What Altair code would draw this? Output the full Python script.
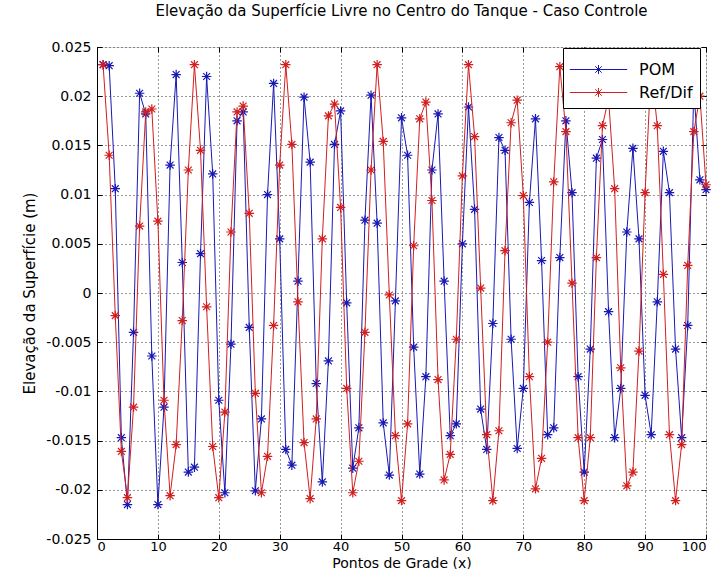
import altair as alt
import pandas as pd

# x positions (grid points) and readings of the two series
x_vals = list(range(1, 101))

pom = [
    0.0232, 0.0231, 0.0106, -0.0147, -0.0215, -0.0040, 0.0203, 0.0182, -0.0064, -0.0215,
    -0.0116, 0.0130, 0.0222, 0.0031, -0.0182, -0.0177, 0.0040, 0.0220, 0.0121, -0.0109,
    -0.0203, -0.0052, 0.0175, 0.0184, -0.0035, -0.0201, -0.0128, 0.0100, 0.0213, 0.0055,
    -0.0159, -0.0175, 0.0012, 0.0199, 0.0133, -0.0092, -0.0192, -0.0069, 0.0151, 0.0185,
    -0.0010, -0.0178, -0.0137, 0.0074, 0.0201, 0.0071, -0.0132, -0.0185, -0.0008, 0.0178,
    0.0140, -0.0055, -0.0184, -0.0085, 0.0125, 0.0182, 0.0012, -0.0145, -0.0133, 0.0050,
    0.0189, 0.0085, -0.0118, -0.0159, -0.0031, 0.0158, 0.0145, -0.0047, -0.0158, -0.0097,
    0.0092, 0.0177, 0.0033, -0.0144, -0.0137, 0.0036, 0.0175, 0.0102, -0.0085, -0.0182,
    -0.0057, 0.0137, 0.0156, -0.0019, -0.0147, -0.0097, 0.0062, 0.0147, 0.0055, -0.0104,
    -0.0144, -0.0009, 0.0144, 0.0102, -0.0057, -0.0147, -0.0033, 0.0207, 0.0115, 0.0105,
]

refdif = [
    0.0232, 0.0140, -0.0023, -0.0161, -0.0208, -0.0116, 0.0068, 0.0184, 0.0187, 0.0073,
    -0.0109, -0.0206, -0.0154, -0.0028, 0.0125, 0.0232, 0.0145, -0.0014, -0.0156, -0.0208,
    -0.0121, 0.0062, 0.0184, 0.0190, 0.0081, -0.0102, -0.0203, -0.0166, -0.0033, 0.0130,
    0.0232, 0.0151, -0.0009, -0.0152, -0.0209, -0.0128, 0.0055, 0.0180, 0.0192, 0.0087,
    -0.0097, -0.0203, -0.0171, -0.0040, 0.0125, 0.0232, 0.0154, -0.0002, -0.0145, -0.0211,
    -0.0133, 0.0048, 0.0177, 0.0194, 0.0094, -0.0088, -0.0190, -0.0164, -0.0047, 0.0119,
    0.0232, 0.0159, 0.0005, -0.0144, -0.0211, -0.0140, 0.0043, 0.0173, 0.0196, 0.0099,
    -0.0085, -0.0199, -0.0168, -0.0050, 0.0113, 0.0230, 0.0164, 0.0010, -0.0147, -0.0211,
    -0.0147, 0.0036, 0.0170, 0.0198, 0.0106, -0.0076, -0.0196, -0.0182, -0.0059, 0.0102,
    0.0230, 0.0170, 0.0019, -0.0144, -0.0211, -0.0154, 0.0028, 0.0164, 0.0200, 0.0110,
]

series_names = ["POM", "Ref/Dif"]
series_colors = ["#1818b4", "#d21e1e"]

x_ticks = list(range(0, 101, 10))
y_ticks = [-0.025, -0.02, -0.015, -0.01, -0.005, 0.0, 0.005, 0.01, 0.015, 0.02, 0.025]

df = pd.DataFrame({
    "x": x_vals + x_vals,
    "y": pom + refdif,
    "serie": [series_names[0]] * len(pom) + [series_names[1]] * len(refdif),
})

FONT = "DejaVu Sans"
ASTER = "M-1,0L1,0M0,-1L0,1M-0.72,-0.72L0.72,0.72M-0.72,0.72L0.72,-0.72"
LEG_SYM = ("M-2.05,0L2.05,0M-0.32,0L0.32,0M0,-0.32L0,0.32"
           "M-0.23,-0.23L0.23,0.23M-0.23,0.23L0.23,-0.23")

legend = alt.Legend(
    title=None,
    orient="none",
    legendX=466,
    legendY=1,
    symbolType=LEG_SYM,
    symbolSize=784,
    symbolStrokeWidth=1,
    symbolOffset=14,
    labelOffset=26,
    padding=7,
    rowPadding=0,
    fillColor="white",
    strokeColor="black",
    labelFont=FONT,
    labelFontSize=16,
    labelColor="black",
    cornerRadius=0,
)

color = alt.Color(
    "serie:N",
    scale=alt.Scale(domain=series_names, range=series_colors),
    legend=legend,
)

xscale = alt.Scale(domain=[0, 100], nice=False, zero=False)
yscale = alt.Scale(domain=[-0.025, 0.025], nice=False, zero=False)

main_x_axis = alt.Axis(
    values=x_ticks, title="Pontos de Grade (x)", format="d", orient="bottom",
    labelFont=FONT, labelFontSize=13, labelColor="black",
    titleFont=FONT, titleFontSize=14, titleFontWeight="normal", titleColor="black",
    labelPadding=1, titleY=28, titleBaseline="alphabetic",
    domainColor="black", tickSize=0,
    grid=True, gridColor="black", gridDash=[1, 3], gridOpacity=0.8,
)
main_y_axis = alt.Axis(
    values=y_ticks, title="Elevação da Superfície (m)", orient="left",
    labelFont=FONT, labelFontSize=14, labelColor="black",
    titleFont=FONT, titleFontSize=15, titleFontWeight="normal", titleColor="black",
    labelPadding=6, titlePadding=8,
    labelExpr="replace(format(datum.value, '.3~f'), '\u2212', '-')",
    domainColor="black", tickSize=0,
    grid=True, gridColor="black", gridDash=[1, 3], gridOpacity=0.8,
)


def tick_axis(values, orient):
    return alt.Axis(
        values=values, orient=orient, title=None, labels=False, domain=False,
        grid=False, ticks=True, tickSize=5, tickColor="black", tickWidth=1, offset=-5,
    )


axes_by_layer = [
    (main_x_axis, main_y_axis),
    (tick_axis(x_ticks, "top"), tick_axis(y_ticks, "right")),
    (tick_axis(x_ticks, "bottom"), tick_axis(y_ticks, "left")),
    (None, None),
]

layers = []
k = 0
for name in series_names:
    base = alt.Chart(df).transform_filter(alt.datum.serie == name)
    for kind in ("line", "point"):
        ax_x, ax_y = axes_by_layer[k]
        k += 1
        xenc = alt.X("x:Q", scale=xscale, axis=ax_x)
        yenc = alt.Y("y:Q", scale=yscale, axis=ax_y)
        if kind == "line":
            m = base.mark_line(strokeWidth=1)
        else:
            m = base.mark_point(shape=ASTER, size=90, filled=False, strokeWidth=1.2, opacity=1)
        layers.append(m.encode(x=xenc, y=yenc, color=color))

chart = alt.layer(*layers).resolve_axis(
    x="independent", y="independent"
).properties(
    width=609,
    height=492,
    autosize=alt.AutoSizeParams(type="none"),
    padding={"left": 97, "top": 47, "right": 19, "bottom": 30},
    title=alt.Title(
        "Elevação da Superfície Livre no Centro do Tanque - Caso Controle",
        font=FONT,
        fontSize=15,
        fontWeight="normal",
        color="black",
        anchor="middle",
        offset=21,
    ),
).configure_view(
    stroke="black", strokeWidth=1
).configure(background="white")

chart.save("out.html", embed_options={"renderer": "svg", "actions": False})
